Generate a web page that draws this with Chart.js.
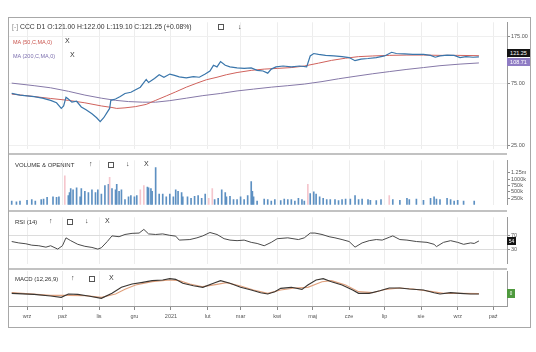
<!DOCTYPE html>
<html>
<head>
<meta charset="utf-8">
<script src="https://cdn.jsdelivr.net/npm/chart.js@4.4.1/dist/chart.umd.min.js"></script>
<style>
  html, body { margin: 0; padding: 0; background: #fff; }
  body { width: 536px; height: 352px; position: relative; overflow: hidden;
         font-family: "Liberation Sans", Arial, sans-serif; color: #333; }
  #frame { position: absolute; left: 8px; top: 17px; width: 521px; height: 309px; border: 1px solid #a8a8a8; }
  .sep { position: absolute; left: 9px; width: 498px; height: 2px; background: #c2c2c2; }
  canvas { position: absolute; left: 9px; }
  .t { position: absolute; white-space: nowrap; font-size: 6px; line-height: 8px; color: #333; }
  .ico { position: absolute; width: 4px; height: 4px; border: 1px dashed #555; }
  .badge { position: absolute; left: 507px; color: #fff; font-size: 5.5px; line-height: 8px; text-align: center; }
</style>
</head>
<body>
<div id="frame"></div>

<canvas id="cPrice" width="527" height="135" style="top:18px"></canvas>
<canvas id="cVol" width="527" height="53" style="top:156px"></canvas>
<canvas id="cRsi" width="527" height="55" style="top:213px"></canvas>
<canvas id="cMacd" width="527" height="55" style="top:271px"></canvas>

<div class="sep" style="top:153px"></div>
<div class="sep" style="top:210px"></div>
<div class="sep" style="top:268px"></div>

<!-- price header -->
<div class="t" style="left:12px;top:23px;font-size:6.8px;color:#888">[-]</div>
<div class="t" style="left:20px;top:23px;font-size:6.8px">CCC D1 O:121.00 H:122.00 L:119.10 C:121.25 (+0.08%)</div>
<div class="ico" style="left:218px;top:24px"></div>
<div class="t" style="left:238px;top:23px;font-size:7px">↓</div>
<div class="t" style="left:13px;top:38px;font-size:5.5px;color:#c9534c">MA (50,C,MA,0)</div>
<div class="t" style="left:65px;top:37px;font-size:7px">X</div>
<div class="t" style="left:13px;top:52px;font-size:5.5px;color:#7c6fae">MA (200,C,MA,0)</div>
<div class="t" style="left:70px;top:51px;font-size:7px">X</div>

<!-- volume header -->
<div class="t" style="left:15px;top:161px">VOLUME &amp; OPENINT</div>
<div class="t" style="left:89px;top:160px;font-size:7px">↑</div>
<div class="ico" style="left:108px;top:162px"></div>
<div class="t" style="left:126px;top:160px;font-size:7px">↓</div>
<div class="t" style="left:144px;top:160px;font-size:7px">X</div>

<!-- rsi header -->
<div class="t" style="left:15px;top:218px">RSI (14)</div>
<div class="t" style="left:49px;top:217px;font-size:7px">↑</div>
<div class="ico" style="left:67px;top:219px"></div>
<div class="t" style="left:85px;top:217px;font-size:7px">↓</div>
<div class="t" style="left:105px;top:217px;font-size:7px">X</div>

<!-- macd header -->
<div class="t" style="left:15px;top:275px">MACD (12,26,9)</div>
<div class="t" style="left:71px;top:274px;font-size:7px">↑</div>
<div class="ico" style="left:89px;top:276px"></div>
<div class="t" style="left:109px;top:274px;font-size:7px">X</div>

<div id="bPrice" class="badge" style="top:49px;width:23px;background:#141414"></div>
<div id="bMa200" class="badge" style="top:58px;width:23px;background:#8f7cc4"></div>
<div id="bRsi" class="badge" style="top:237px;width:9px;background:#141414;font-size:5px"></div>
<div id="bMacd" class="badge" style="top:289px;width:8px;height:9px;background:#4f9a3e;font-size:4.5px;line-height:9px"></div>

<script>
// x values are days counted from 1 Aug 2020
const monthDays = [31, 61, 92, 122, 153, 184, 212, 243, 273, 304, 334, 365, 396, 426];
const monthLabels = ['wrz', 'paź', 'lis', 'gru', '2021', 'lut', 'mar', 'kwi', 'maj', 'cze', 'lip', 'sie', 'wrz', 'paź'];
const X_MIN = 15.7, X_MAX = 437.8;

const priceDays = [18, 25, 37, 44, 51, 56, 60, 62, 64, 66, 69, 73, 77, 81, 86, 90, 93, 96, 99, 101, 102, 106, 110, 114,
  119, 123, 127, 132, 134, 139, 143, 147, 152, 156, 160, 166, 172, 177, 182, 186, 189, 192, 195, 199, 203, 209, 215,
  221, 226, 231, 235, 238, 242, 248, 255, 262, 268, 271, 274, 278, 284, 291, 298, 304, 309, 314, 320, 327, 334, 340,
  344, 351, 358, 367, 373, 377, 381, 387, 393, 398, 403, 409, 414];
const priceClose = [63.0, 61.2, 59.6, 57.9, 55.7, 53.3, 48.2, 50.4, 58.9, 57.0, 53.9, 54.8, 49.5, 47.1, 43.8, 40.8, 38.1,
  40.8, 45.1, 48.2, 55.7, 57.0, 59.6, 63.0, 64.4, 67.4, 70.5, 81.0, 76.6, 82.4, 88.1, 84.2, 89.1, 87.1, 84.8, 83.3, 85.0,
  84.2, 89.1, 94.2, 104.2, 101.3, 111.3, 104.2, 101.3, 99.6, 98.6, 99.6, 95.2, 94.2, 90.6, 97.4, 101.3, 102.9, 101.3,
  102.9, 101.3, 123.2, 128.7, 126.6, 124.5, 123.2, 121.7, 119.7, 113.2, 116.5, 117.7, 119.7, 123.2, 131.6, 128.7, 128.0,
  126.6, 126.6, 124.5, 120.4, 123.2, 125.2, 124.5, 119.7, 121.7, 120.4, 121.25];

const ma50Days = [18, 37, 51, 66, 80, 94, 103, 107, 114, 123, 132, 140, 149, 157, 166, 175, 183, 192, 200, 209, 221, 232,
  243, 255, 266, 278, 289, 301, 312, 324, 338, 353, 367, 381, 396, 414];
const ma50 = [62.3, 59.6, 57.6, 55.7, 53.3, 50.4, 49.0, 48.2, 48.7, 49.8, 51.8, 55.7, 60.3, 64.8, 70.5, 75.8, 80.5, 84.2,
  88.1, 91.6, 95.2, 97.4, 98.6, 100.1, 102.9, 108.3, 113.8, 118.4, 121.7, 123.2, 124.5, 125.2, 125.2, 124.5, 124.5, 123.8];

const ma200Days = [18, 37, 51, 66, 80, 94, 106, 117, 129, 140, 152, 166, 180, 195, 209, 223, 238, 252, 266, 281, 295, 309,
  324, 338, 353, 367, 381, 398, 414];
const ma200 = [75.8, 72.4, 69.7, 65.5, 61.2, 57.9, 55.7, 54.5, 53.9, 53.9, 55.4, 57.9, 60.6, 63.0, 65.9, 68.1, 70.5, 72.4,
  74.5, 77.9, 81.9, 85.6, 89.6, 93.1, 96.9, 100.1, 103.5, 106.5, 108.71];

const volDays = [18, 22, 25, 31, 35, 38, 43, 45, 48, 53, 56, 58, 63, 66, 67, 68, 70, 73, 76, 77, 80, 83, 86, 89, 91, 94, 97,
  100, 101, 103, 106, 107, 109, 111, 114, 117, 119, 122, 124, 127, 130, 133, 134, 136, 137, 140, 143, 146, 149, 152, 155,
  157, 159, 162, 163, 167, 170, 173, 176, 179, 182, 185, 188, 190, 193, 196, 199, 200, 203, 206, 209, 212, 215, 218, 221,
  222, 223, 226, 232, 235, 238, 241, 246, 249, 252, 255, 258, 261, 264, 266, 269, 271, 274, 276, 279, 282, 285, 288, 292,
  295, 298, 301, 305, 309, 312, 315, 320, 322, 327, 331, 338, 341, 347, 353, 355, 361, 367, 373, 376, 378, 381, 387, 390,
  393, 396, 401, 410];
const volK = [142, 109, 142, 174, 196, 142, 196, 218, 283, 305, 283, 305, 1123, 360, 469, 632, 578, 654, 305, 632, 523, 469,
  578, 469, 578, 414, 741, 796, 1068, 632, 578, 796, 523, 578, 196, 305, 360, 305, 360, 578, 741, 687, 654, 632, 523, 1450,
  414, 414, 305, 414, 305, 578, 523, 469, 305, 305, 251, 327, 360, 251, 414, 251, 632, 196, 251, 578, 469, 305, 327, 196,
  196, 305, 196, 360, 905, 523, 305, 142, 218, 196, 142, 196, 164, 218, 196, 196, 142, 251, 196, 142, 796, 436, 501, 414,
  305, 251, 196, 196, 196, 164, 196, 218, 218, 360, 196, 218, 196, 174, 164, 196, 360, 196, 174, 251, 196, 218, 174, 251,
  305, 218, 196, 251, 196, 142, 174, 142, 142];
// 1 = falling session (pink bar)
const volDown = [0, 0, 0, 0, 0, 0, 0, 0, 0, 0, 0, 0, 1, 0, 0, 0, 0, 0, 0, 0, 0, 0, 0, 0, 0, 0, 0, 0, 1, 0, 0, 0, 0, 0, 0, 0,
  0, 0, 0, 1, 1, 0, 0, 0, 0, 0, 0, 0, 0, 0, 0, 0, 0, 0, 0, 0, 0, 0, 0, 0, 0, 1, 1, 0, 0, 0, 0, 0, 0, 0, 0, 0, 0, 0, 0, 0, 0,
  0, 0, 0, 0, 0, 0, 0, 0, 0, 0, 0, 0, 0, 1, 0, 0, 0, 0, 0, 0, 0, 0, 0, 0, 0, 0, 0, 0, 0, 0, 0, 0, 0, 1, 0, 0, 0, 0, 0, 0, 0,
  0, 0, 0, 0, 0, 0, 0, 0, 0];

const rsiDays = [18, 24, 30, 35, 41, 47, 51, 57, 61, 64, 68, 74, 80, 86, 91, 94, 99, 103, 109, 114, 120, 126, 130, 134, 140,
  146, 152, 157, 160, 169, 175, 180, 186, 192, 198, 203, 209, 215, 221, 226, 232, 238, 243, 252, 261, 266, 271, 275, 281,
  287, 292, 298, 304, 309, 315, 321, 327, 332, 338, 341, 347, 353, 361, 370, 376, 378, 384, 390, 396, 401, 407, 410, 414];
const rsi = [52.6, 48.9, 46.6, 42.8, 41.3, 37.5, 41.3, 32.3, 41.3, 62.5, 54.9, 45.1, 39.8, 36.8, 32.3, 36.0, 52.6, 67.7,
  65.5, 71.5, 74.5, 75.3, 85.1, 73.0, 71.5, 73.0, 69.2, 67.0, 56.4, 57.9, 62.5, 67.7, 76.8, 71.5, 60.2, 56.4, 54.9, 56.4,
  50.4, 47.4, 41.3, 50.4, 60.2, 62.5, 57.9, 62.5, 75.3, 75.3, 71.5, 65.5, 62.5, 57.9, 52.6, 37.5, 48.9, 54.9, 57.9, 56.4,
  64.0, 67.7, 57.9, 56.4, 52.6, 50.4, 45.1, 39.0, 50.4, 54.9, 50.4, 45.1, 48.9, 47.4, 54.1];

const macdDays = [18, 37, 51, 60, 66, 74, 83, 94, 103, 111, 120, 129, 137, 146, 152, 157, 163, 172, 180, 189, 195, 203, 212,
  221, 229, 235, 241, 246, 255, 264, 269, 276, 282, 289, 298, 307, 312, 321, 330, 338, 347, 355, 367, 376, 381, 390, 398,
  407, 414];
const macd = [0.0, -0.3, -0.8, -1.2, -0.2, -0.3, -0.8, -1.5, 0.0, 1.8, 2.8, 3.3, 3.8, 4.0, 4.4, 4.2, 3.0, 2.3, 1.8, 3.0, 3.8,
  3.0, 1.8, 1.0, 0.2, -0.2, 0.5, 1.5, 1.8, 1.2, 2.5, 4.0, 4.4, 3.5, 2.5, 1.0, 0.0, 0.0, 0.8, 1.6, 1.6, 1.3, 1.0, 0.2, -0.2,
  0.2, 0.0, -0.2, -0.2];
const signalDays = [18, 51, 66, 80, 94, 106, 114, 123, 137, 152, 160, 169, 180, 192, 200, 212, 223, 235, 246, 258, 269, 281,
  289, 301, 312, 324, 335, 347, 358, 373, 384, 398, 414];
const signal = [0.2, -0.6, -0.6, -0.7, -1.2, -0.2, 1.2, 2.5, 3.5, 4.0, 3.8, 2.8, 2.0, 2.7, 3.2, 2.2, 1.0, 0.0, 1.0, 1.6,
  1.8, 3.5, 3.8, 2.5, 0.5, 0.2, 1.2, 1.6, 1.3, 0.6, 0.0, 0.0, -0.1];

const FONT = "'Liberation Sans', Arial, sans-serif";
const pts = (xs, ys) => xs.map((x, i) => ({ x, y: ys[i] }));

function xScale(showLabels) {
  return {
    type: 'linear', min: X_MIN, max: X_MAX, offset: false,
    afterBuildTicks: s => { s.ticks = monthDays.map(v => ({ value: v })); },
    afterFit: s => { s.height = showLabels ? 20 : 0; },
    grid: { color: '#ededed', offset: false, drawTicks: showLabels, tickLength: 4, tickColor: '#8a8a8a' },
    border: { display: showLabels, color: '#9a9a9a' },
    ticks: {
      display: showLabels, autoSkip: false, maxRotation: 0, padding: 3, color: '#555',
      font: { family: FONT, size: 5.5 },
      callback: v => monthLabels[monthDays.indexOf(v)],
    },
  };
}

function yScale(tickValues, fmt, extra) {
  return Object.assign({
    position: 'right',
    afterFit: s => { s.width = 29; },
    afterBuildTicks: s => { s.ticks = tickValues.map(v => ({ value: v })); },
    border: { display: true, color: '#9a9a9a' },
    grid: { color: '#efefef', tickLength: 3, tickColor: '#8a8a8a' },
    ticks: { color: '#555', padding: 1, autoSkip: false, font: { family: FONT, size: 5.5 }, callback: fmt },
  }, extra);
}

function baseOptions(scales) {
  return {
    responsive: false, animation: false, devicePixelRatio: 1, events: [],
    layout: { padding: 0, autoPadding: false },
    plugins: { legend: { display: false }, tooltip: { enabled: false } },
    scales,
  };
}

const line = (data, color, extra) => Object.assign({
  data, borderColor: color, borderWidth: 1, pointRadius: 0, tension: 0, fill: false,
}, extra);

// price + moving averages
new Chart(document.getElementById('cPrice'), {
  type: 'line',
  data: {
    datasets: [
      line(pts(priceDays, priceClose), '#3a76ab', { order: 0, borderWidth: 1.2 }),
      line(pts(ma50Days, ma50), '#d0625c', { order: 1 }),
      line(pts(ma200Days, ma200), '#8679a8', { order: 2 }),
    ],
  },
  options: baseOptions({
    x: xScale(false),
    y: yScale([25, 75, 175], v => v.toFixed(2), { type: 'logarithmic', min: 23.46, max: 224.9 }),
  }),
});

// volume
new Chart(document.getElementById('cVol'), {
  type: 'bar',
  data: {
    datasets: [{
      data: pts(volDays, volK),
      backgroundColor: volDown.map(d => d ? '#f5c6cd' : '#5d90c2'),
      barThickness: 1,
    }],
  },
  options: baseOptions({
    x: xScale(false),
    y: yScale([250, 500, 750, 1000, 1250], v => v >= 1250 ? (v / 1000) + 'm' : v + 'k', {
      min: 0, max: 1730,
      grid: { color: 'rgba(0,0,0,0)', tickLength: 3, tickColor: '#8a8a8a' },
    }),
  }),
});

// RSI
new Chart(document.getElementById('cRsi'), {
  type: 'line',
  data: { datasets: [line(pts(rsiDays, rsi), '#4a4a4a')] },
  options: baseOptions({
    x: xScale(false),
    y: yScale([30, 70], v => String(v), {
      min: -6.8, max: 117.5,
      grid: { color: '#dcdcdc', tickLength: 3, tickColor: '#8a8a8a' },
    }),
  }),
});

// MACD
new Chart(document.getElementById('cMacd'), {
  type: 'line',
  data: {
    datasets: [
      line(pts(macdDays, macd), '#3a3632', { order: 0, borderWidth: 1.1 }),
      line(pts(signalDays, signal), '#e0a07c', { order: 1, borderWidth: 1.1 }),
    ],
  },
  options: baseOptions({
    x: xScale(true),
    y: yScale([], () => '', { min: -3.8, max: 6.7, grid: { display: false } }),
  }),
});

// last-value badges on the right axis
document.getElementById('bPrice').textContent = priceClose[priceClose.length - 1].toFixed(2);
document.getElementById('bMa200').textContent = ma200[ma200.length - 1].toFixed(2);
document.getElementById('bRsi').textContent = Math.round(rsi[rsi.length - 1]);
document.getElementById('bMacd').textContent = Math.abs(macd[macd.length - 1]).toFixed(0);
</script>
</body>
</html>
